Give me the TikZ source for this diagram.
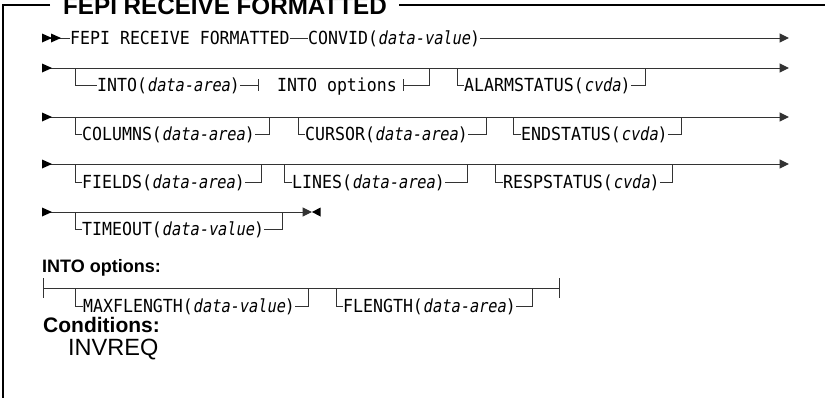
\documentclass[tikz,border=0pt]{standalone}
\usepackage{fontspec}
\setmainfont{Liberation Sans}
\newfontfamily\cmdfont[FakeStretch=0.92]{DejaVu Sans Mono}
\newfontfamily\cmdargfont[FakeStretch=0.85,FakeSlant=0.18]{DejaVu Sans Mono}
\newcommand{\cmdvar}[1]{{\cmdargfont #1}}
\usetikzlibrary{arrows.meta,positioning}
\tikzset{
  rail/.style={line width=1pt, draw=black!80},
  railend/.style={-{Triangle[length=9.5pt,width=9pt]}},
  frame/.style={line width=1.6pt, draw=black},
  kw/.style={font=\fontsize{18}{20}\selectfont\cmdfont, inner sep=0pt, text height=13.1pt, text depth=0pt, anchor=west},
  heading/.style={font=\fontsize{24.2}{24}\selectfont\bfseries, inner sep=0pt, anchor=base west},
  sublabel/.style={font=\fontsize{18}{18}\selectfont\bfseries, inner sep=0pt, anchor=base west}
}
% filled rail heads: pointing right / pointing left
\newcommand{\railhead}[1]{\fill[black] (#1) ++(0,-4.5) -- ++(10,4.5) -- ++(-10,4.5) -- cycle;}
\newcommand{\railstop}[1]{\fill[black] (#1) ++(8.5,-4.5) -- ++(-8.5,4.5) -- ++(8.5,4.5) -- cycle;}
\newcommand{\railtick}[1]{\draw[rail] (#1) ++(0,-10) -- ++(0,20);}

\begin{document}
\begin{tikzpicture}[x=1pt,y=-1pt]
  \useasboundingbox (0,0) rectangle (825,397);

  % Frame with heading
  \node[heading] (head) at (63,14.5) {FEPI RECEIVE FORMATTED};
  \coordinate (headl) at (50,5);
  \coordinate (headr) at (399,5);
  \coordinate (frametl) at (3,5);
  \coordinate (framebl) at (3,400);
  \coordinate (frametr) at (826,5);
  \draw[frame] (headl) -- (frametl) -- (framebl);
  \draw[frame] (headr) -- (frametr);

  % Row 1: command and CONVID
  \coordinate (r1in) at (42,38);
  \coordinate (r1out) at (789,38);
  \node[kw] (fepi) at (70,38) {FEPI RECEIVE FORMATTED};
  \node[kw] (convid) at (308,38) {CONVID(\cmdvar{data-value})};
  \draw[rail] (r1in) -- (fepi.west);
  \draw[rail] (fepi.east) -- (convid.west);
  \draw[rail, railend] (convid.east) -- (r1out);
  \railhead{42,38}
  \railhead{51,38}

  % Row 2: INTO and ALARMSTATUS
  \coordinate (r2in) at (42,68);
  \coordinate (r2out) at (789,68);
  \draw[rail, railend] (r2in) -- (r2out);
  \railhead{42,68}
  \coordinate (intob) at (75,68);
  \coordinate (intoe) at (429,68);
  \coordinate (refl) at (258,85);
  \coordinate (refr) at (403,85);
  \node[kw] (into) at (97,85) {INTO(\cmdvar{data-area})};
  \node[kw] (intoref) at (277,85) {INTO options};
  \draw[rail] (intob) |- (into.west);
  \draw[rail] (into.east) -- (refl);
  \draw[rail] (refl) ++(0,-6) -- ++(0,12);
  \draw[rail] (refr) ++(0,-6) -- ++(0,12);
  \draw[rail] (refr) -| (intoe);
  \coordinate (alarmb) at (457,68);
  \coordinate (alarme) at (645,68);
  \node[kw] (alarm) at (464,85) {ALARMSTATUS(\cmdvar{cvda})};
  \draw[rail] (alarmb) |- (alarm.west);
  \draw[rail] (alarm.east) -| (alarme);

  % Row 3: COLUMNS, CURSOR, ENDSTATUS
  \coordinate (r3in) at (42,117);
  \coordinate (r3out) at (789,117);
  \draw[rail, railend] (r3in) -- (r3out);
  \railhead{42,117}
  \coordinate (colb) at (75,117);
  \coordinate (cole) at (269,117);
  \node[kw] (columns) at (82,134) {COLUMNS(\cmdvar{data-area})};
  \draw[rail] (colb) |- (columns.west);
  \draw[rail] (columns.east) -| (cole);
  \coordinate (curb) at (298,117);
  \coordinate (cure) at (486,117);
  \node[kw] (cursor) at (305,134) {CURSOR(\cmdvar{data-area})};
  \draw[rail] (curb) |- (cursor.west);
  \draw[rail] (cursor.east) -| (cure);
  \coordinate (endb) at (513,117);
  \coordinate (ende) at (681,117);
  \node[kw] (endstat) at (521,134) {ENDSTATUS(\cmdvar{cvda})};
  \draw[rail] (endb) |- (endstat.west);
  \draw[rail] (endstat.east) -| (ende);

  % Row 4: FIELDS, LINES, RESPSTATUS
  \coordinate (r4in) at (42,164);
  \coordinate (r4out) at (789,164);
  \draw[rail, railend] (r4in) -- (r4out);
  \railhead{42,164}
  \coordinate (fldb) at (75,164);
  \coordinate (flde) at (261,164);
  \node[kw] (fields) at (82,182) {FIELDS(\cmdvar{data-area})};
  \draw[rail] (fldb) |- (fields.west);
  \draw[rail] (fields.east) -| (flde);
  \coordinate (linb) at (284,164);
  \coordinate (line) at (467,164);
  \node[kw] (lines) at (292,182) {LINES(\cmdvar{data-area})};
  \draw[rail] (linb) |- (lines.west);
  \draw[rail] (lines.east) -| (line);
  \coordinate (respb) at (495,164);
  \coordinate (respe) at (672,164);
  \node[kw] (respstat) at (503,182) {RESPSTATUS(\cmdvar{cvda})};
  \draw[rail] (respb) |- (respstat.west);
  \draw[rail] (respstat.east) -| (respe);

  % Row 5: TIMEOUT and end of statement
  \coordinate (r5in) at (42,212);
  \coordinate (r5out) at (312,212);
  \draw[rail, railend] (r5in) -- (r5out);
  \railhead{42,212}
  \railstop{312,212}
  \coordinate (timb) at (75,212);
  \coordinate (time) at (282,212);
  \node[kw] (timeout) at (82,229) {TIMEOUT(\cmdvar{data-value})};
  \draw[rail] (timb) |- (timeout.west);
  \draw[rail] (timeout.east) -| (time);

  % INTO options fragment
  \node[sublabel] (intolabel) at (42,272) {INTO options:};
  \coordinate (optin) at (43,288);
  \coordinate (optout) at (559,288);
  \draw[rail] (optin) -- (optout);
  \railtick{43,288}
  \railtick{559,288}
  \coordinate (maxb) at (75,288);
  \coordinate (maxe) at (308,288);
  \node[kw] (maxflen) at (83,306) {MAXFLENGTH(\cmdvar{data-value})};
  \draw[rail] (maxb) |- (maxflen.west);
  \draw[rail] (maxflen.east) -| (maxe);
  \coordinate (flenb) at (336,288);
  \coordinate (flene) at (532,288);
  \node[kw] (flength) at (343,306) {FLENGTH(\cmdvar{data-area})};
  \draw[rail] (flenb) |- (flength.west);
  \draw[rail] (flength.east) -| (flene);

  % Conditions
  \node[heading, font=\fontsize{21}{21}\selectfont\bfseries] (condlabel) at (43,332) {Conditions:};
  \node[heading, font=\fontsize{23.5}{23.5}\selectfont] (invreq) at (68,355) {INVREQ};
\end{tikzpicture}
\end{document}
